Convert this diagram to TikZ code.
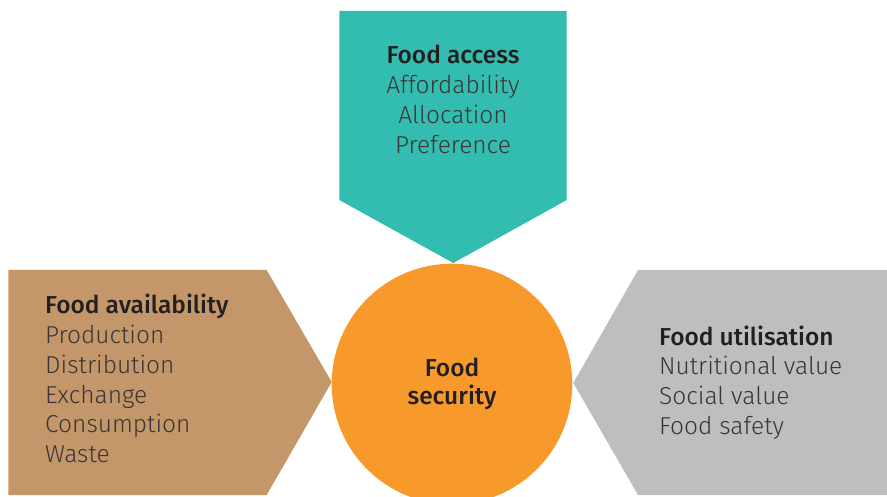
\documentclass[tikz,border=0pt]{standalone}
\usepackage{fontspec}
\setmainfont{Fira Sans Light}[BoldFont={Fira Sans Medium}]
\usetikzlibrary{positioning}
\definecolor{accessteal}{HTML}{33BDB0}
\definecolor{availtan}{HTML}{C4976A}
\definecolor{utilgrey}{HTML}{BDBEC0}
\definecolor{secorange}{HTML}{F89A2B}
\definecolor{textdark}{HTML}{231F20}
\def\cx{452}
\def\cy{384}
\def\rad{120.3}
\def\gap{29.7}

\begin{document}
\begin{tikzpicture}[x=1pt,y=-1pt,
  item/.style={font=\fontsize{24.5}{28}\selectfont,text=textdark!90,inner sep=0pt},
  head/.style={item,font=\fontsize{24.5}{28}\selectfont\bfseries,text=textdark}]

\useasboundingbox (0,0) rectangle (887,497);
\clip (0,0) rectangle (887,497);

% the three arrows
\fill[accessteal] (339.3,11) -- (566.7,11) -- (566.7,200) -- (453.3,263) -- (339.3,200) -- cycle;
\fill[availtan] (8.3,270) -- (266.7,270) -- (331.7,382) -- (266.7,495) -- (8.3,495) -- cycle;
\fill[utilgrey] (887,270) -- (638,270) -- (573.3,383) -- (638,495) -- (887,495) -- cycle;

\node[circle,fill=secorange,minimum size=2*\rad pt,inner sep=0pt,align=center,
  font=\fontsize{24.5}{29}\selectfont\bfseries,text=textdark] (security) at (\cx,\cy) {Food\\[-0.2pt]security};

\node[head,anchor=base] (access) at (453,64) {Food access};
\foreach \txt [count=\i] in {Affordability,Allocation,Preference}
  \node[item,anchor=base] (access\i) at (453,{64+\gap*\i}) {\txt};

\node[head,anchor=base west] (avail) at (45,314) {Food availability};
\foreach \txt [count=\i] in {Production,Distribution,Exchange,Consumption,Waste}
  \node[item,anchor=base west] (avail\i) at (45,{314+\gap*\i}) {\txt};

\node[head,anchor=base west] (util) at (659,345) {Food utilisation};
\foreach \txt [count=\i] in {Nutritional value,Social value,Food safety}
  \node[item,anchor=base west] (util\i) at (659,{345+\gap*\i}) {\txt};

\end{tikzpicture}
\end{document}
